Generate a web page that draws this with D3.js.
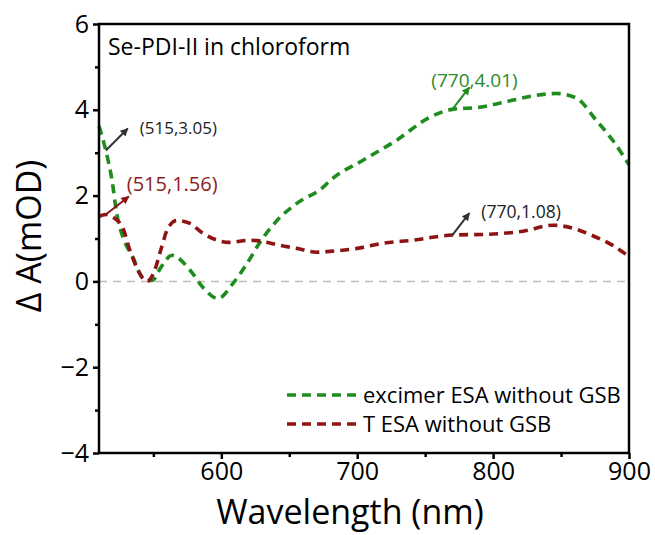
<!DOCTYPE html>
<html>
<head>
<meta charset="utf-8">
<script src="https://cdn.jsdelivr.net/npm/d3@7"></script>
<style>
  body { margin: 0; background: #fff; }
  svg { font-family: "Open Sans", "Noto Sans", sans-serif; }
</style>
</head>
<body>
<svg width="655" height="535"></svg>
<script>
// excimer ESA without GSB (green)
var excimerNm  = [510, 515, 519.6, 523, 527.6, 535, 542, 549, 556, 563.7, 577, 586.5, 597.5, 608.5, 619, 628, 641, 655.6, 674.7, 680, 704, 729, 753, 770, 790, 814, 832, 847, 861.5, 876, 888, 900];
var excimerVal = [3.62, 3.05, 2.35, 1.59, 1.03, 0.56, 0.09, 0.02, 0.35, 0.61, 0.26, -0.14, -0.40, -0.05, 0.42, 0.89, 1.42, 1.82, 2.19, 2.35, 2.82, 3.29, 3.82, 4.01, 4.06, 4.22, 4.34, 4.38, 4.27, 3.75, 3.29, 2.72];

// T ESA without GSB (dark red)
var tripletNm  = [510, 515, 520, 527.6, 532.8, 538.7, 545.3, 551, 556, 560.7, 567.4, 577, 586.5, 597, 606, 621, 630.6, 643, 655.6, 670, 680, 700, 719, 741, 770, 797.5, 822, 844, 858.5, 873, 888, 900];
var tripletVal = [1.52, 1.56, 1.50, 1.24, 0.72, 0.26, 0.0, 0.26, 0.79, 1.24, 1.42, 1.35, 1.12, 0.96, 0.91, 0.96, 0.93, 0.84, 0.77, 0.68, 0.70, 0.77, 0.89, 0.96, 1.08, 1.10, 1.17, 1.31, 1.24, 1.07, 0.84, 0.58];

var xMajorTicks = [600, 700, 800, 900];
var xMinorTicks = [550, 650, 750, 850];
var yMajorTicks = [-4, -2, 0, 2, 4, 6];
var yMinorTicks = [-3, -1, 1, 3, 5];

var seriesNames  = ["excimer ESA without GSB", "T ESA without GSB"];
var seriesColors = ["#1e8c1e", "#8e1414"];

// labelled points: [nm, value, text, colour of text, colour of arrow]
var notes = [
  [515, 3.05, "(515,3.05)", "#222", "#333"],
  [515, 1.56, "(515,1.56)", "#8e1c1c", "#8e1414"],
  [770, 4.01, "(770,4.01)", "#2a8a2a", "#1e8c1e"],
  [770, 1.08, "(770,1.08)", "#222", "#333"]
];
// arrow end and label placement relative to the point (px)
var noteOffsets = [
  {ax: 22, ay: -22, tx: 34, ty: -17, size: 17},
  {ax: 23, ay: -18, tx: 21, ty: -23, size: 20},
  {ax: 17, ay: -22, tx: -21, ty: -22, size: 19},
  {ax: 17, ay: -22, tx: 29, ty: -17, size: 17.5}
];

var width = 655, height = 535;
var margin = {top: 24, right: 26, bottom: 82, left: 99};

var svg = d3.select("svg");

var x = d3.scaleLinear()
  .domain([510, 900])
  .range([margin.left, width - margin.right]);

var y = d3.scaleLinear()
  .domain([-4, 6])
  .range([height - margin.bottom, margin.top]);

var defs = svg.append("defs");
notes.forEach(function(n, i) {
  defs.append("marker")
    .attr("id", "head" + i)
    .attr("viewBox", "0 0 10 10")
    .attr("refX", 9).attr("refY", 5)
    .attr("markerWidth", 9).attr("markerHeight", 8)
    .attr("markerUnits", "userSpaceOnUse")
    .attr("orient", "auto")
    .append("path")
    .attr("d", "M0,0L10,5L0,10Z")
    .attr("fill", n[4]);
});

// zero line
svg.append("line")
  .attr("x1", x(510)).attr("x2", x(897))
  .attr("y1", y(0)).attr("y2", y(0))
  .attr("stroke", "#bdbdbd")
  .attr("stroke-width", 1.5)
  .attr("stroke-dasharray", "8,6");

var line = d3.line()
  .x(d => x(d[0]))
  .y(d => y(d[1]))
  .curve(d3.curveMonotoneX);

var series = [
  d3.zip(excimerNm, excimerVal),
  d3.zip(tripletNm, tripletVal)
];

svg.selectAll(".series")
  .data(series)
  .enter()
  .append("path")
  .attr("class", "series")
  .attr("d", line)
  .attr("fill", "none")
  .attr("stroke", (d, i) => seriesColors[i])
  .attr("stroke-width", 3.6)
  .attr("stroke-dasharray", "9,6");

// axes
svg.append("g")
  .attr("transform", "translate(0," + y(-4) + ")")
  .call(d3.axisBottom(x).tickValues(xMajorTicks).tickSize(6).tickPadding(3).tickFormat(d3.format("d")));

svg.append("g")
  .attr("transform", "translate(0," + y(-4) + ")")
  .call(d3.axisBottom(x).tickValues(xMinorTicks).tickSize(4).tickFormat(""));

svg.append("g")
  .attr("transform", "translate(" + x(510) + ",0)")
  .call(d3.axisLeft(y).tickValues(yMajorTicks).tickSize(6).tickPadding(4));

svg.append("g")
  .attr("transform", "translate(" + x(510) + ",0)")
  .call(d3.axisLeft(y).tickValues(yMinorTicks).tickSize(4).tickFormat(""));

svg.selectAll(".domain").remove();
svg.selectAll(".tick line").attr("stroke", "#000").attr("stroke-width", 2.5);
svg.selectAll(".tick text")
  .attr("fill", "#000")
  .style("font-size", "25px")
  .style("font-family", "'Open Sans', sans-serif");

// frame
svg.append("rect")
  .attr("x", x(510)).attr("y", y(6))
  .attr("width", x(900) - x(510))
  .attr("height", y(-4) - y(6))
  .attr("fill", "none")
  .attr("stroke", "#000")
  .attr("stroke-width", 2.5);

// axis titles
svg.append("text")
  .attr("x", 350).attr("y", 524)
  .attr("text-anchor", "middle")
  .style("font-size", "34px")
  .text("Wavelength (nm)");

svg.append("text")
  .attr("transform", "translate(41," + 236 + ") rotate(-90)")
  .attr("text-anchor", "middle")
  .style("font-size", "34px")
  .text("\u0394 A(mOD)");

svg.append("text")
  .attr("x", x(510) + 9).attr("y", 55)
  .style("font-size", "23px")
  .text("Se-PDI-II in chloroform");

// annotations
notes.forEach(function(n, i) {
  var o = noteOffsets[i];
  var px = x(n[0]), py = y(n[1]);
  svg.append("line")
    .attr("x1", px).attr("y1", py)
    .attr("x2", px + o.ax).attr("y2", py + o.ay)
    .attr("stroke", n[4])
    .attr("stroke-width", 2)
    .attr("marker-end", "url(#head" + i + ")");
  svg.append("text")
    .attr("x", px + o.tx).attr("y", py + o.ty)
    .attr("fill", n[3])
    .style("font-size", o.size + "px")
    .text(n[2]);
});

// legend
var legend = svg.append("g").attr("transform", "translate(287,395)");
seriesNames.forEach(function(name, i) {
  var g = legend.append("g").attr("transform", "translate(0," + i * 29 + ")");
  g.append("line")
    .attr("x1", 0).attr("x2", 71)
    .attr("stroke", seriesColors[i])
    .attr("stroke-width", 3.6)
    .attr("stroke-dasharray", "9,6");
  g.append("text")
    .attr("x", 76).attr("y", 8)
    .style("font-size", "22px")
    .text(name);
});
</script>
</body>
</html>
